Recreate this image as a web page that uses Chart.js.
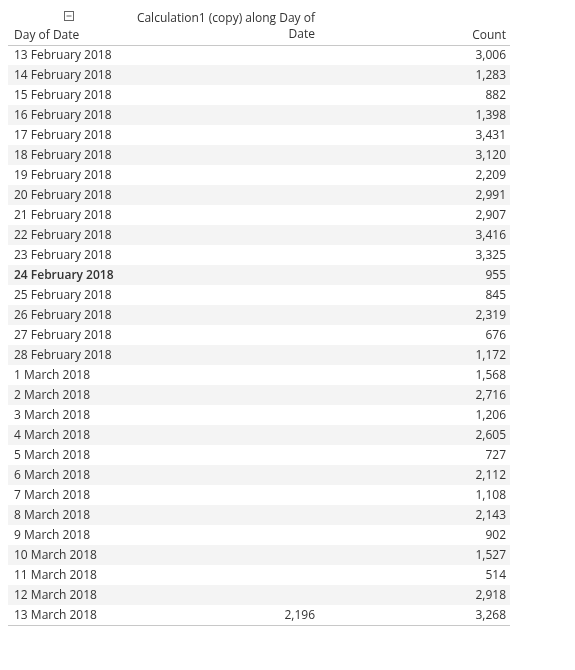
<!DOCTYPE html>
<html>
<head>
<meta charset="utf-8">
<script src="https://cdn.jsdelivr.net/npm/chart.js@4/dist/chart.umd.min.js"></script>
<style>
  html, body { margin: 0; padding: 0; background: #fff; }
  #wrap { width: 575px; height: 670px; }
</style>
</head>
<body>
<div id="wrap"><canvas id="tableChart"></canvas></div>
<script>
// 表のデータ
const dates = [
  '13 February 2018', '14 February 2018', '15 February 2018', '16 February 2018',
  '17 February 2018', '18 February 2018', '19 February 2018', '20 February 2018',
  '21 February 2018', '22 February 2018', '23 February 2018', '24 February 2018',
  '25 February 2018', '26 February 2018', '27 February 2018', '28 February 2018',
  '1 March 2018', '2 March 2018', '3 March 2018', '4 March 2018', '5 March 2018',
  '6 March 2018', '7 March 2018', '8 March 2018', '9 March 2018', '10 March 2018',
  '11 March 2018', '12 March 2018', '13 March 2018'
];
const counts = [
  3006, 1283, 882, 1398, 3431, 3120, 2209, 2991, 2907, 3416, 3325, 955, 845, 2319,
  676, 1172, 1568, 2716, 1206, 2605, 727, 2112, 1108, 2143, 902, 1527, 514, 2918, 3268
];
// 最後の行だけ値がある
const calcValues = [
  null, null, null, null, null, null, null, null, null, null, null, null, null, null,
  null, null, null, null, null, null, null, null, null, null, null, null, null, null, 2196
];
const boldRows = ['24 February 2018'];
const headers = ['Day of Date', 'Calculation1 (copy) along Day of', 'Date', 'Count'];

const FONT = '"Open Sans", "Noto Sans", sans-serif';
const fmt = (v) => v.toLocaleString('en-US');

// 表を描くプラグイン
const tablePlugin = {
  id: 'tableText',
  beforeDatasetsDraw(chart) {
    const { ctx, chartArea: a, scales: { y } } = chart;
    const rowH = y.getPixelForValue(1) - y.getPixelForValue(0);
    ctx.save();
    ctx.fillStyle = '#f4f4f4';
    dates.forEach((d, i) => {
      if (i % 2 === 1) ctx.fillRect(a.left, y.getPixelForValue(i) - rowH / 2, a.right - a.left, rowH);
    });
    ctx.restore();
  },
  afterDraw(chart) {
    const { ctx, chartArea: a, scales: { y } } = chart;
    ctx.save();
    ctx.fillStyle = '#333';
    ctx.textBaseline = 'middle';
    dates.forEach((d, i) => {
      const py = y.getPixelForValue(i) + 1;
      ctx.font = (boldRows.includes(d) ? '600 ' : '') + '12px ' + FONT;
      ctx.textAlign = 'left';
      ctx.fillText(d, 14, py);
      ctx.font = '12px ' + FONT;
      ctx.textAlign = 'right';
      ctx.fillText(fmt(counts[i]), 506, py);
      if (calcValues[i] != null) ctx.fillText(fmt(calcValues[i]), 315, py);
    });
    // ヘッダー
    ctx.font = '12px ' + FONT;
    ctx.textAlign = 'left';
    ctx.fillText(headers[0], 14, 36);
    ctx.textAlign = 'right';
    ctx.fillText(headers[1], 315, 19);
    ctx.fillText(headers[2], 315, 35);
    ctx.fillText(headers[3], 506, 36);
    // 罫線
    ctx.strokeStyle = '#c8c8c8';
    ctx.lineWidth = 1;
    ctx.beginPath();
    ctx.moveTo(a.left, a.top + 0.5); ctx.lineTo(a.right, a.top + 0.5);
    ctx.moveTo(a.left, a.bottom + 0.5); ctx.lineTo(a.right, a.bottom + 0.5);
    ctx.stroke();
    // 折りたたみボタン
    ctx.strokeStyle = '#666';
    ctx.strokeRect(64.5, 11.5, 9, 9);
    ctx.beginPath(); ctx.moveTo(66.5, 16); ctx.lineTo(71.5, 16); ctx.stroke();
    ctx.restore();
  }
};

new Chart(document.getElementById('tableChart').getContext('2d'), {
  type: 'bar',
  data: {
    labels: dates,
    datasets: [{ data: counts, backgroundColor: 'rgba(0,0,0,0)' }]
  },
  options: {
    indexAxis: 'y',
    responsive: true,
    maintainAspectRatio: false,
    animation: false,
    layout: { padding: { top: 45, bottom: 45, left: 8, right: 65 } },
    scales: {
      x: { display: false, min: 0 },
      y: { display: false, offset: true }
    },
    plugins: { legend: { display: false }, tooltip: { enabled: false } }
  },
  plugins: [tablePlugin]
});
</script>
</body>
</html>
